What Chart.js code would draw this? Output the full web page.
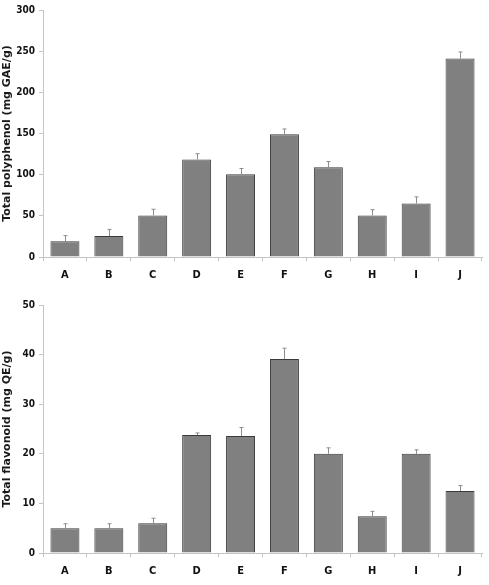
<!DOCTYPE html>
<html>
<head>
<meta charset="utf-8">
<script src="https://cdn.jsdelivr.net/npm/chart.js@4.4.0/dist/chart.umd.min.js"></script>
<style>
  body { margin: 0; background: #fff; }
  .box { position: absolute; left: 0; width: 489px; height: 290px; }
</style>
</head>
<body>
<div class="box" style="top:0"><canvas id="chart-1"></canvas></div>
<div class="box" style="top:295px"><canvas id="chart-2"></canvas></div>
<script>
const labels = ['A', 'B', 'C', 'D', 'E', 'F', 'G', 'H', 'I', 'J'];
// total polyphenol (mg GAE/g) and its SD
const polyphenol = [19, 25.5, 50.5, 118.5, 100.5, 149, 109, 50.5, 65, 241];
const polyphenolErr = [7, 8, 7.5, 7, 7, 6.5, 7, 7, 8, 8];
// total flavonoid (mg QE/g) and its SD
const flavonoid = [5, 5, 6, 23.8, 23.6, 39.1, 20, 7.4, 20, 12.5];
const flavonoidErr = [0.9, 0.9, 1, 0.4, 1.7, 2.2, 1.2, 1, 0.8, 1.1];

const tickFont = { family: '"DejaVu Sans Condensed", "Liberation Sans Narrow", sans-serif', size: 11, weight: 'bold' };
const axisColor = '#c4c4c4';

// draws the upward SD bars
const errorBars = {
    id: 'errorBars',
    afterDatasetsDraw(chart) {
        const ctx = chart.ctx;
        const y = chart.scales.y;
        const ds = chart.data.datasets[0];
        const meta = chart.getDatasetMeta(0);
        ctx.save();
        ctx.strokeStyle = '#8c8c8c';
        ctx.lineWidth = 1;
        meta.data.forEach((bar, i) => {
            const x = Math.round(bar.x) + 0.5;
            const top = y.getPixelForValue(ds.data[i] + ds.errors[i]);
            ctx.beginPath();
            ctx.moveTo(x, bar.y);
            ctx.lineTo(x, top);
            ctx.moveTo(x - 2, top);
            ctx.lineTo(x + 2, top);
            ctx.stroke();
        });
        ctx.restore();
    }
};

function makeChart(id, values, errors, max, step, title, padTop, xHeight) {
    return new Chart(document.getElementById(id), {
        type: 'bar',
        data: {
            labels: labels,
            datasets: [{
                data: values,
                errors: errors,
                backgroundColor: '#808080',
                borderColor: '#3a3a3a',
                borderWidth: 1,
                categoryPercentage: 0.66,
                barPercentage: 1
            }]
        },
        options: {
            responsive: true,
            maintainAspectRatio: false,
            animation: false,
            layout: { padding: { top: padTop, right: 7, left: 0, bottom: 0 } },
            plugins: { legend: { display: false }, tooltip: { enabled: false } },
            scales: {
                x: {
                    afterFit: (s) => { s.height = xHeight; },
                    grid: { offset: true, drawOnChartArea: false, tickLength: 4, color: axisColor },
                    border: { color: axisColor },
                    ticks: { color: '#111', font: tickFont, padding: 8 }
                },
                y: {
                    min: 0,
                    max: max,
                    afterFit: (s) => { s.width = 43; },
                    grid: { drawOnChartArea: false, tickLength: 4, color: axisColor },
                    border: { color: axisColor },
                    ticks: { stepSize: step, color: '#111', font: { ...tickFont, size: 10 }, padding: 4 },
                    title: {
                        display: true,
                        text: title,
                        color: '#1a1a1a',
                        padding: { top: 1, bottom: 3 },
                        font: { family: '"DejaVu Sans", Verdana, sans-serif', size: 11, weight: 'bold' }
                    }
                }
            }
        },
        plugins: [errorBars]
    });
}

makeChart('chart-1', polyphenol, polyphenolErr, 300, 50, 'Total polyphenol (mg GAE/g)', 6, 33);
makeChart('chart-2', flavonoid, flavonoidErr, 50, 10, 'Total flavonoid (mg QE/g)', 9, 32);
</script>
</body>
</html>
